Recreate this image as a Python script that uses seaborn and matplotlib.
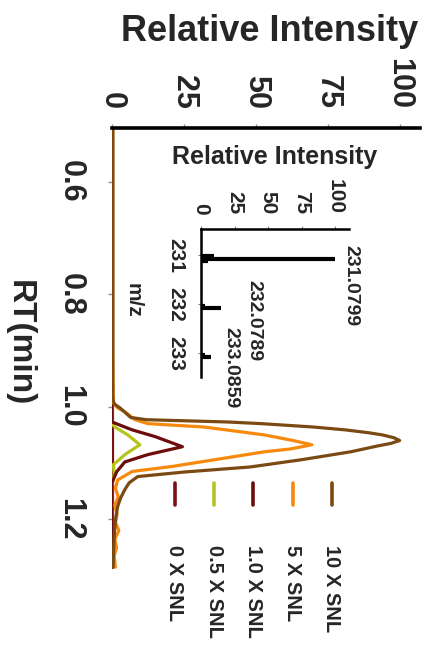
import numpy as np
import pandas as pd
import matplotlib
matplotlib.use('Agg')
import matplotlib.pyplot as plt
import seaborn as sns

# chromatogram traces (RT in min, relative intensity)
rt_10x = [0.505, 0.90, 0.985, 0.995, 1.002, 1.012, 1.019, 1.023, 1.027, 1.030, 1.036, 1.041, 1.046,
          1.050, 1.055, 1.060, 1.065, 1.070, 1.080, 1.094, 1.107, 1.116, 1.124, 1.135, 1.147,
          1.162, 1.177, 1.195, 1.22, 1.25, 1.285]
int_10x = [0.3, 0.3, 0.3, 0.8, 2.8, 5.0, 6.5, 12, 40, 52, 70, 81, 89,
           94, 98, 100, 97, 92, 83, 66, 48, 25, 9, 6, 4.5,
           3.0, 2.0, 1.4, 0.9, 0.6, 0.4]

rt_5x = [0.505, 0.90, 0.993, 1.002, 1.009, 1.023, 1.030, 1.036, 1.050, 1.060, 1.0675, 1.075,
         1.080, 1.093, 1.106, 1.115, 1.130, 1.145, 1.16, 1.175, 1.19, 1.205, 1.22, 1.235,
         1.25, 1.265, 1.285]
int_5x = [0.3, 0.3, 0.5, 2.0, 4.5, 8.0, 12.5, 32, 53, 63, 69.5, 62,
          53, 37, 21, 7, 2, 1.2, 2.2, 1.0, 1.8, 1.2, 2.4, 1.0,
          1.6, 0.8, 1.2]

rt_1x = [0.505, 1.027, 1.031, 1.036, 1.041, 1.053, 1.071, 1.085, 1.098, 1.115, 1.135, 1.285]
int_1x = [0, 0, 2.0, 4.5, 7.0, 15, 24.5, 12.5, 4.5, 1.7, 0, 0]

rt_05x = [0.505, 1.030, 1.036, 1.050, 1.0675, 1.085, 1.103, 1.12, 1.14, 1.285]
int_05x = [0, 0, 1.0, 5.5, 9.7, 4.5, 0.5, 0.8, 0, 0]

rt_0x = [0.505, 1.285]
int_0x = [0, 0]

# mass spectrum inset
mz = [231.02, 231.0799, 231.13, 232.04, 232.0789, 233.04, 233.0859]
mz_int = [10, 100, 5, 3, 15, 3, 7.5]
peak_labels = ['231.0799', '232.0789', '233.0859']
peak_label_x = [105, 33, 16]
peak_label_y = [230.8, 231.5, 232.47]

levels = ['10 X SNL', '5 X SNL', '1.0 X SNL', '0.5 X SNL', '0 X SNL']
colors = ['#7b4a12', '#f7890c', '#6e0b0b', '#b4c41c', '#7a1212']

sns.set_style('white')
plt.rcParams['font.family'] = ['Liberation Sans', 'DejaVu Sans']
plt.rcParams['font.weight'] = 'bold'

fig = plt.figure(figsize=(4.24, 6.47), dpi=100)
ax = fig.add_axes([0.264, 0.119, 0.726, 0.683])

traces = {
    '0 X SNL': (rt_0x, int_0x),
    '0.5 X SNL': (rt_05x, int_05x),
    '1.0 X SNL': (rt_1x, int_1x),
    '5 X SNL': (rt_5x, int_5x),
    '10 X SNL': (rt_10x, int_10x),
}
for name in ['0 X SNL', '0.5 X SNL', '1.0 X SNL', '5 X SNL', '10 X SNL']:
    r, v = traces[name]
    df = pd.DataFrame({'rt': r, 'intensity': v})
    sns.lineplot(data=df, x='intensity', y='rt', ax=ax, sort=False, estimator=None,
                 color=colors[levels.index(name)], lw=2.3)

ax.set_xlim(0, 107)
ax.set_ylim(1.29, 0.505)
ax.xaxis.tick_top()
ax.xaxis.set_label_position('top')
for s in ['left', 'right', 'bottom']:
    ax.spines[s].set_visible(False)
ax.spines['top'].set_linewidth(2.6)
ax.spines['top'].set_color('black')

ax.set_xticks([0, 25, 50, 75, 100])
ax.set_xticklabels(['0', '25', '50', '75', '100'])
ax.set_yticks([0.6, 0.8, 1.0, 1.2])
ax.set_yticklabels(['0.6', '0.8', '1.0', '1.2'])
ax.tick_params(axis='x', top=True, bottom=False, direction='out', length=3, width=1,
               color='0.55', pad=11, labelsize=22, labelrotation=-90)
ax.tick_params(axis='y', left=True, direction='out', length=3, width=1,
               color='0.55', pad=16, labelsize=22, labelrotation=-90)
for lbl in ax.get_yticklabels():
    lbl.set_va('center')

ax.set_xlabel('Relative Intensity', fontsize=26, fontweight='bold')
ax.xaxis.set_label_coords(0.513, 1.218)
ax.xaxis.label.set_va('center')
ax.set_ylabel('RT(min)', fontsize=24, fontweight='bold', rotation=-90)
ax.yaxis.set_label_coords(-0.302, 0.514)
ax.yaxis.label.set_va('center')
ax.yaxis.label.set_ha('center')

# legend drawn by hand, rotated like the rest of the figure
for i, (lab, col) in enumerate(zip(levels, colors)):
    xf = (332 - 39.25 * i - 112) / 308
    ax.plot([xf, xf], [0.197, 0.147], transform=ax.transAxes, color=col, lw=2.6,
            solid_capstyle='round', clip_on=False)
    ax.text(xf, 0.0566, lab, transform=ax.transAxes, rotation=-90, ha='center', va='top',
            fontsize=14.5, fontweight='bold')

# inset
axi = fig.add_axes([0.474, 0.417, 0.349, 0.229])
axi.patch.set_alpha(0)
axi.hlines(mz, 0, mz_int, color='black', lw=3)
axi.set_xlim(0, 110)
axi.set_ylim(233.49, 230.47)
axi.xaxis.tick_top()
axi.xaxis.set_label_position('top')
for s in ['right', 'bottom']:
    axi.spines[s].set_visible(False)
for s in ['top', 'left']:
    axi.spines[s].set_linewidth(1.8)
    axi.spines[s].set_color('black')
axi.set_xticks([0, 25, 50, 75, 100])
axi.set_xticklabels(['0', '25', '50', '75', '100'])
axi.set_yticks([231, 232, 233])
axi.set_yticklabels(['231', '232', '233'])
axi.tick_params(axis='x', top=True, bottom=False, direction='out', length=2.5, width=0.8,
                color='0.5', pad=8, labelsize=15, labelrotation=-90)
axi.tick_params(axis='y', left=True, direction='out', length=2.5, width=0.8,
                color='0.5', pad=9, labelsize=15, labelrotation=-90)
for lbl in axi.get_yticklabels():
    lbl.set_va('center')
axi.set_xlabel('Relative Intensity', fontsize=18, fontweight='bold')
axi.xaxis.set_label_coords(0.5, 1.486)
axi.xaxis.label.set_va('center')
axi.set_ylabel('m/z', fontsize=15, fontweight='bold', rotation=-90)
axi.yaxis.set_label_coords(-0.459, 0.52)
axi.yaxis.label.set_va('center')
axi.yaxis.label.set_ha('center')

for txt, px, py in zip(peak_labels, peak_label_x, peak_label_y):
    axi.text(px, py, txt, rotation=-90, ha='left', va='top', fontsize=14, fontweight='bold')

fig.savefig('out.png', dpi=100)
